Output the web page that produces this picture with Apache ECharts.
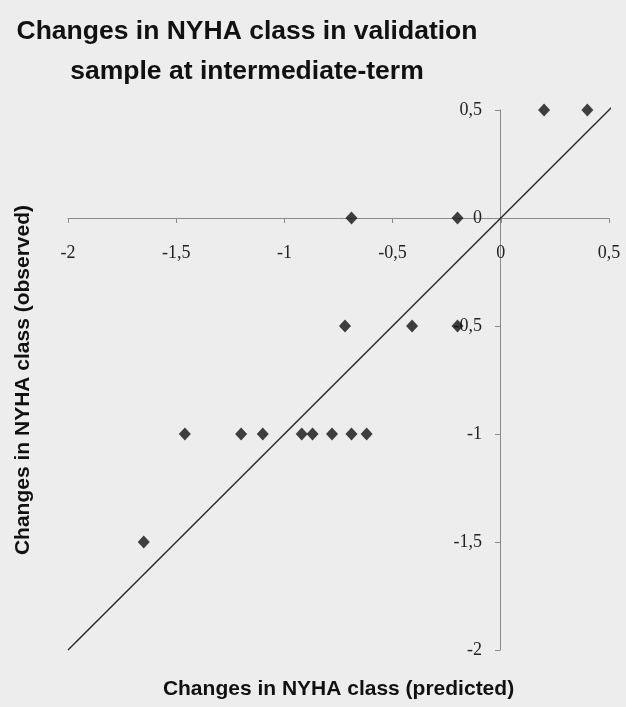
<!DOCTYPE html>
<html>
<head>
<meta charset="utf-8">
<script src="https://cdn.jsdelivr.net/npm/echarts@6/dist/echarts.min.js"></script>
<style>
  html, body { margin: 0; padding: 0; background: #ededed; }
  #scatterChart { width: 626px; height: 707px; }
</style>
</head>
<body>
<div id="scatterChart"></div>
<script>
  // predicted vs observed change in NYHA class
  let predicted = [0.2, 0.4, -0.69, -0.2, -0.72, -0.41, -0.2,
    -1.46, -1.2, -1.1, -0.92, -0.87, -0.78, -0.69, -0.62, -1.65]
  let observed = [0.5, 0.5, 0, 0, -0.5, -0.5, -0.5,
    -1, -1, -1, -1, -1, -1, -1, -1, -1.5]
  let identityLine = [[-2, -2], [0.52, 0.52]]
  let axisMin = -2
  let axisMax = 0.5
  let tickStep = 0.5

  let points = predicted.map(function (x, i) {
    return [x, observed[i]]
  })

  let commaFmt = function (v) {
    return String(v).replace('.', ',')
  }

  // axes cross at zero: shift them from the grid edge into the plot
  let crossOffset = -432

  let nameStyle = {
    fontFamily: 'Liberation Sans',
    fontWeight: 'bold',
    fontSize: 21,
    color: '#111'
  }

  const option = {
    backgroundColor: '#ededed',
    animation: false,
    title: {
      text: 'Changes in NYHA class in validation\nsample at intermediate-term',
      left: 242,
      top: 7,
      textAlign: 'center',
      textStyle: {
        fontFamily: 'Liberation Sans',
        fontWeight: 'bold',
        fontSize: 26.5,
        lineHeight: 40,
        color: '#111'
      }
    },
    grid: {
      left: 68,
      right: 17,
      top: 110,
      bottom: 57,
      containLabel: false,
      outerBoundsMode: 'none'
    },
    xAxis: {
      type: 'value',
      position: 'bottom',
      offset: crossOffset,
      min: axisMin,
      max: axisMax,
      interval: tickStep,
      name: 'Changes in NYHA class (predicted)',
      nameLocation: 'middle',
      nameGap: 461,
      nameTextStyle: nameStyle,
      splitLine: { show: false },
      axisLine: { onZero: false, lineStyle: { color: '#8a8a8a', width: 1 } },
      axisTick: { show: true, length: 5, lineStyle: { color: '#8a8a8a' } },
      axisLabel: {
        margin: 26,
        fontFamily: 'Liberation Serif',
        fontSize: 18,
        color: '#222',
        formatter: commaFmt
      }
    },
    yAxis: {
      type: 'value',
      position: 'left',
      offset: crossOffset,
      min: axisMin,
      max: axisMax,
      interval: tickStep,
      name: 'Changes in NYHA class (observed)',
      nameLocation: 'middle',
      nameGap: 466,
      nameRotate: 90,
      nameTextStyle: nameStyle,
      splitLine: { show: false },
      axisLine: { onZero: false, lineStyle: { color: '#8a8a8a', width: 1 } },
      axisTick: { show: true, length: 5, lineStyle: { color: '#8a8a8a' } },
      axisLabel: {
        margin: 18,
        fontFamily: 'Liberation Serif',
        fontSize: 18,
        color: '#222',
        formatter: commaFmt
      }
    },
    series: [{
      name: 'identity',
      type: 'line',
      data: identityLine,
      symbol: 'none',
      clip: false,
      lineStyle: { color: '#2a2a2a', width: 1.5 },
      z: 2
    }, {
      name: 'patients',
      type: 'scatter',
      data: points,
      symbol: 'diamond',
      symbolSize: [12, 13],
      itemStyle: { color: '#111' },
      z: 3
    }]
  }

  let chart = echarts.init(document.getElementById('scatterChart'))
  chart.setOption(option)
</script>
</body>
</html>
